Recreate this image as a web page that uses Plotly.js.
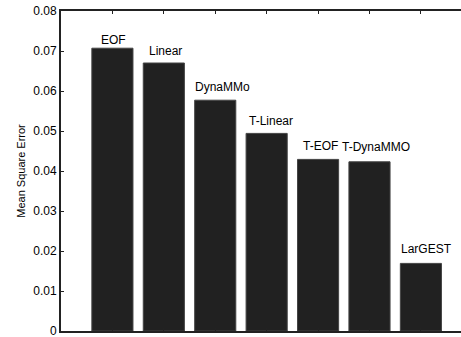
<!DOCTYPE html>
<html>
<head>
<meta charset="utf-8">
<script src="https://cdn.plot.ly/plotly-3.0.1.min.js"></script>
<style>html,body{margin:0;padding:0;overflow:hidden;background:#fff;}</style>
</head>
<body>
<div id="chart" style="width:461px;height:337px;"></div>
<script>
const methods = ["EOF", "Linear", "DynaMMo", "T-Linear", "T-EOF", "T-DynaMMO", "LarGEST"];
const positions = [1, 2, 3, 4, 5, 6, 7];
const mse = [0.0707, 0.0670, 0.0577, 0.0494, 0.0429, 0.0423, 0.0169];
const yTickValues = [0, 0.01, 0.02, 0.03, 0.04, 0.05, 0.06, 0.07, 0.08];
const yTickLabels = ["0", "0.01", "0.02", "0.03", "0.04", "0.05", "0.06", "0.07", "0.08"];

// label pixel offsets (style only)
const labelDx = [1, 2, 7, 4, 2, 6.5, 6];
const labelDy = [-1, 3, 4.5, 3, 4, 6, 5];

const trace = {
  type: "bar",
  x: positions,
  y: mse,
  width: 0.8,
  marker: {color: "#212121", line: {color: "#444", width: 1}},
  hoverinfo: "none"
};

const annotations = methods.map((m, i) => ({
  x: positions[i],
  y: mse[i],
  xref: "x",
  yref: "y",
  text: m,
  showarrow: false,
  xanchor: "center",
  yanchor: "bottom",
  xshift: labelDx[i],
  yshift: labelDy[i],
  font: {family: "Liberation Sans, Arial, sans-serif", size: 12, color: "#000"}
}));

const layout = {
  width: 461,
  height: 337,
  margin: {l: 61, r: 0, t: 11, b: 6, pad: 0},
  paper_bgcolor: "#fff",
  plot_bgcolor: "#fff",
  showlegend: false,
  font: {family: "Liberation Sans, Arial, sans-serif", size: 12, color: "#000"},
  annotations: annotations,
  xaxis: {
    range: [0, 7.78],
    tickvals: positions,
    showticklabels: false,
    ticks: "inside",
    ticklen: 3,
    tickcolor: "#222",
    showline: true,
    linecolor: "#222",
    linewidth: 2,
    mirror: "ticks",
    showgrid: false,
    zeroline: false,
    fixedrange: true
  },
  yaxis: {
    range: [0, 0.08],
    tickvals: yTickValues,
    ticktext: yTickLabels,
    ticks: "inside",
    ticklen: 3,
    tickcolor: "#222",
    ticklabeloverflow: "allow",
    showline: true,
    linecolor: "#222",
    linewidth: 2,
    mirror: false,
    showgrid: false,
    zeroline: false,
    tickfont: {size: 12, color: "#000"},
    title: {text: "Mean Square Error", font: {size: 11, color: "#000"}, standoff: 5},
    fixedrange: true
  }
};

Plotly.newPlot("chart", [trace], layout, {displayModeBar: false, staticPlot: true});
</script>
</body>
</html>
